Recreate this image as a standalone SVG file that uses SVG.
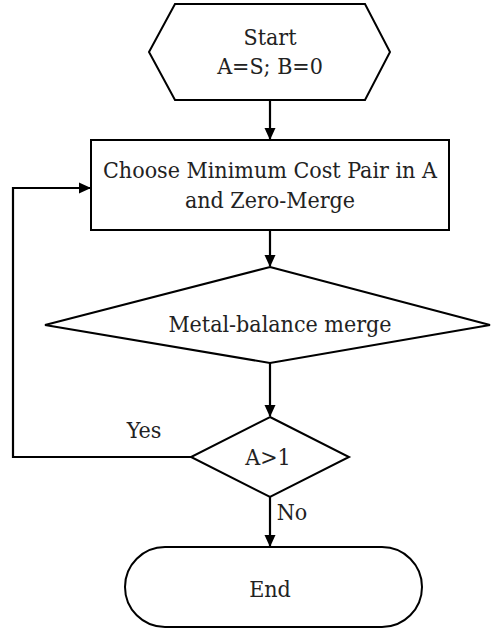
<svg xmlns="http://www.w3.org/2000/svg" width="492" height="629" viewBox="0 0 492 629">
<style>
.s{fill:#fff;stroke:#000;stroke-width:2}
.c{fill:none;stroke:#000;stroke-width:2.2}
text{font-family:'DejaVu Serif Condensed','DejaVu Serif',serif;font-stretch:condensed;font-size:23px;fill:#222;text-anchor:middle}
</style>
<defs>
<marker id="a" markerWidth="12" markerHeight="12" refX="11" refY="6" orient="auto" markerUnits="userSpaceOnUse">
<path d="M0,0.5 L12,6 L0,11.5 Z" fill="#000"/>
</marker>
</defs>
<rect width="492" height="629" fill="#fff"/>
<g id="start">
<polygon class="s" points="175,4 365,4 390,52 365,100 175,100 149,52"/>
<text x="270" y="45">Start</text>
<text x="270" y="74">A=S; B=0</text>
</g>
<g id="choose">
<rect class="s" x="91" y="140" width="358" height="90"/>
<text x="270" y="178">Choose Minimum Cost Pair in A</text>
<text x="270" y="208">and Zero-Merge</text>
</g>
<g id="metal">
<polygon class="s" points="270,267 490,325 270,363 45,325"/>
<text x="280" y="332">Metal-balance merge</text>
</g>
<g id="cond">
<polygon class="s" points="270,417 349,457 270,497 191,457"/>
<text x="268" y="465">A&gt;1</text>
</g>
<g id="end">
<rect class="s" x="125" y="547" width="297" height="80" rx="40" ry="40"/>
<text x="270" y="597">End</text>
</g>
<g id="connectors">
<line class="c" x1="270" y1="100" x2="270" y2="139" marker-end="url(#a)"/>
<line class="c" x1="270" y1="230" x2="270" y2="266" marker-end="url(#a)"/>
<line class="c" x1="270" y1="363" x2="270" y2="416" marker-end="url(#a)"/>
<polyline class="c" points="191,457 13,457 13,188 90,188" marker-end="url(#a)"/>
<line class="c" x1="270" y1="497" x2="270" y2="546" marker-end="url(#a)"/>
<text x="144" y="438">Yes</text>
<text x="292" y="520">No</text>
</g>
</svg>
